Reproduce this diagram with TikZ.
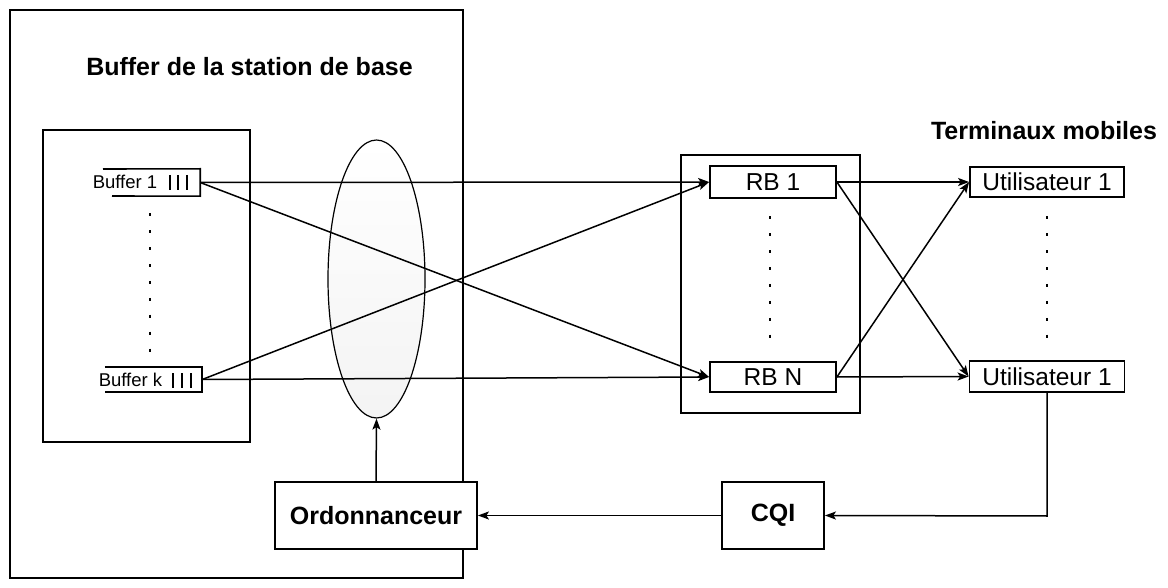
\documentclass[tikz,border=0pt]{standalone}
\usepackage{fontspec}
\setmainfont{Liberation Sans}
\usetikzlibrary{shapes.geometric,arrows.meta}
\begin{document}
\begin{tikzpicture}[x=1pt,y=-1pt,
  frame/.style={draw,line width=1.8pt},
  box/.style={draw,line width=1.8pt,fill=white,inner sep=0pt,font=\fontsize{24.5}{26}\selectfont},
  bbox/.style={draw,line width=1.8pt,fill=white,inner sep=0pt,font=\fontsize{25}{27}\selectfont\bfseries},
  buf/.style={inner sep=0pt,draw=none},
  buftxt/.style={inner sep=0pt,font=\fontsize{18.5}{20}\selectfont},
  title/.style={inner sep=0pt,font=\fontsize{25}{27}\selectfont\bfseries,anchor=base},
  arr/.style={line width=1.5pt,-{Stealth[length=11pt,width=8pt,inset=2.5pt]}},
  ln/.style={line width=1.6pt},
  dots/.style={line width=2pt,dash pattern=on 3pt off 13.875pt}
]
\useasboundingbox (0,0) rectangle (1168,588);
% frames
\draw[frame] (10,10) rectangle (463,578);
\draw[frame] (43,130) rectangle (250,442);
\draw[frame] (681,155) rectangle (860,413);
% titles
\node[title] (t1) at (249.5,76) {Buffer de la station de base};
\node[title] (t2) at (1044,140) {Terminaux mobiles};
% scheduler ellipse
\node[ellipse,draw,line width=1.2pt,minimum width=97pt,minimum height=278pt,inner sep=0pt,
      top color=white,bottom color=gray!9] (sch) at (376.5,279) {};
% buffers
\node[buf,minimum width=97pt,minimum height=27pt] (b1) at (151.5,182.5) {};
\node[buf,minimum width=97pt,minimum height=25pt] (bk) at (153.5,379.5) {};
\draw[ln] (103,169) -- (b1.north east) -- (b1.south east) -- (112,196);
\draw[ln] (bk.north west) -- (bk.north east) -- (bk.south east) -- (bk.south west);
\node[buftxt] (b1t) at (125,182) {Buffer 1};
\node[buftxt] (bkt) at (130.5,380) {Buffer k};
\foreach \x in {170,178,187}{\draw[line width=2.2pt] (\x,175) -- (\x,190);}
\foreach \x in {173,182,191}{\draw[line width=2.2pt] (\x,373) -- (\x,388);}
% boxes
\node[box,minimum width=126pt,minimum height=32pt] (rb1) at (773,182) {RB 1};
\node[box,minimum width=126pt,minimum height=30pt] (rbn) at (773,377) {RB N};
\node[box,minimum width=154pt,minimum height=30pt] (u1) at (1047,182) {Utilisateur 1};
\node[box,minimum width=155pt,minimum height=31pt] (u2) at (1047,376.5) {Utilisateur 1};
\node[bbox,minimum width=202pt,minimum height=67pt] (ord) at (376,515.5) {Ordonnanceur};
\node[bbox,minimum width=102pt,minimum height=67pt] (cqi) at (773,515.5) {CQI};
% dots
\draw[dots] (150,213.5) -- (150,351.5);
\draw[dots] (770,216.5) -- (770,337.6);
\draw[dots] (1047,216.5) -- (1047,337.6);
% connectors
\draw[arr] (b1.east) -- (rb1.west);
\draw[arr] (b1.east) -- (rbn.west);
\draw[arr] (bk.east) -- (rb1.west);
\draw[arr] (bk.east) -- (rbn.west);
\draw[arr] (rb1.east) -- (u1.west);
\draw[arr] (rb1.east) -- (u2.west);
\draw[arr] (rbn.east) -- (u1.west);
\draw[arr] (rbn.east) -- (u2.west);
\coordinate (corner) at (1047,516);
\draw[arr] (u2.south) -- (corner) -- (cqi.east);
\draw[arr] (cqi.west) -- (ord.east);
\draw[arr] (ord.north) -- (sch.south);
\end{tikzpicture}
\end{document}
